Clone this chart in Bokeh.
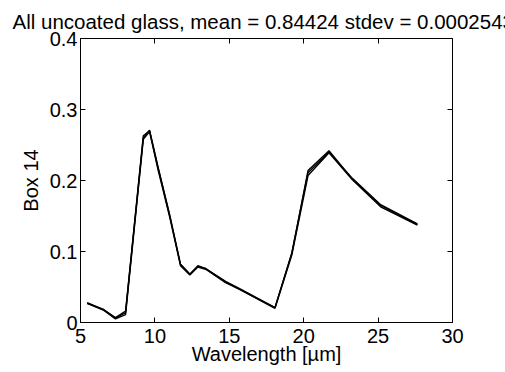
from bokeh.plotting import figure
from bokeh.models import LinearAxis, Range1d, FixedTicker, Title, CustomJSTickFormatter
from bokeh.embed import file_html
from bokeh.resources import INLINE

wavelength = [5.45, 6.57, 7.35, 8.03, 9.22, 9.64, 10.2, 11.0, 11.72, 12.35, 12.89,
              13.41, 14.75, 15.76, 18.07, 19.2, 20.29, 21.7, 23.27, 25.17, 27.64]
box14_a = [0.027, 0.018, 0.006, 0.014, 0.263, 0.270, 0.219, 0.150, 0.082, 0.068, 0.079,
           0.076, 0.057, 0.046, 0.021, 0.097, 0.214, 0.242, 0.202, 0.165, 0.138]
box14_b = [0.027, 0.017, 0.005, 0.011, 0.258, 0.269, 0.216, 0.148, 0.080, 0.067, 0.078,
           0.075, 0.056, 0.046, 0.020, 0.095, 0.207, 0.239, 0.201, 0.163, 0.137]
box14_c = [0.028, 0.018, 0.007, 0.016, 0.260, 0.271, 0.220, 0.151, 0.082, 0.068, 0.080,
           0.076, 0.058, 0.047, 0.021, 0.098, 0.211, 0.240, 0.203, 0.166, 0.139]

x_ticks = [5, 10, 15, 20, 25, 30]
y_ticks = [0, 0.1, 0.2, 0.3, 0.4]
y_tick_labels = ["0", "0.1", "0.2", "0.3", "0.4"]
title_text = "All uncoated glass, mean = 0.84424 stdev = 0.0002543"

FONT = "Liberation Sans"
FS = "20px"

p = figure(width=505, height=372, output_backend="svg", toolbar_location=None,
           x_range=Range1d(5, 30), y_range=Range1d(0, 0.4),
           x_axis_label="Wavelength [µm]", y_axis_label="Box 14",
           min_border_left=80, min_border_right=53, min_border_top=38, min_border_bottom=50)
p.title = Title(text=title_text, align="left", offset=-68, text_font=FONT,
                text_font_size="20.5px", text_font_style="normal", text_color="black",
                standoff=12)

p.grid.visible = False
p.outline_line_color = "black"
p.outline_line_width = 1
p.background_fill_color = "white"
p.border_fill_color = "white"

for ys in (box14_a, box14_b, box14_c):
    p.line(wavelength, ys, line_color="black", line_width=1.4)

def style(ax, ticks):
    ax.ticker = FixedTicker(ticks=ticks)
    ax.axis_line_color = "black"
    ax.major_tick_line_color = "black"
    ax.major_tick_in = 5
    ax.major_tick_out = 0
    ax.minor_tick_line_color = None
    ax.major_label_text_font = FONT
    ax.major_label_text_font_size = FS
    ax.major_label_text_color = "black"
    ax.axis_label_text_font = FONT
    ax.axis_label_text_font_size = FS
    ax.axis_label_text_font_style = "normal"
    ax.axis_label_text_color = "black"

xa = p.xaxis[0]
style(xa, x_ticks)
xa.major_label_standoff = 6
xa.axis_label_standoff = -3

ya = p.yaxis[0]
style(ya, y_ticks)
ya.major_label_overrides = {t: l for t, l in zip(y_ticks, y_tick_labels)}
ya.major_label_standoff = 3
ya.axis_label_standoff = 5

blank = CustomJSTickFormatter(code="return '';")

top = LinearAxis(formatter=blank)
style(top, x_ticks)
top.major_label_standoff = 0
p.add_layout(top, "above")

right = LinearAxis(formatter=blank)
style(right, y_ticks)
right.major_label_standoff = 0
p.add_layout(right, "right")

open("out.html", "w").write(file_html(p, INLINE))
